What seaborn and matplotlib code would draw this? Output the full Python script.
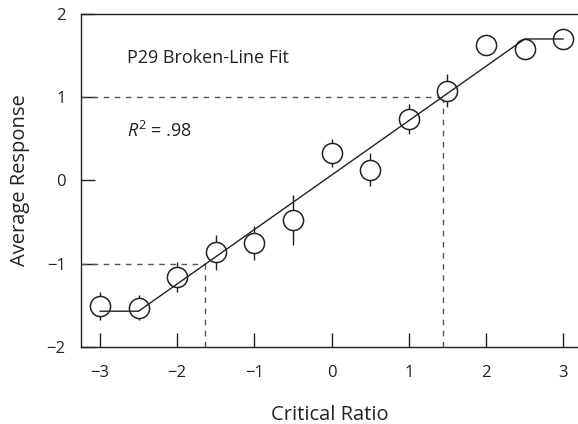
import matplotlib
matplotlib.use("Agg")
import matplotlib.pyplot as plt
import seaborn as sns
import pandas as pd

# Data
critical_ratio = [-3, -2.5, -2, -1.5, -1, -0.5, 0, 0.5, 1, 1.5, 2, 2.5, 3]
avg_response = [-1.51, -1.53, -1.16, -0.86, -0.75, -0.48, 0.33, 0.13, 0.74, 1.08, 1.63, 1.58, 1.70]
err = [0.17, 0.15, 0.18, 0.21, 0.20, 0.30, 0.17, 0.20, 0.18, 0.20, 0.08, 0.08, 0.05]
fit_x = [-3, -2.5, 2.5, 3]
fit_y = [-1.57, -1.57, 1.70, 1.70]
lower_cut_x, lower_cut_y = -1.64, -1.0
upper_cut_x, upper_cut_y = 1.44, 1.0
xticks = [-3, -2, -1, 0, 1, 2, 3]
yticks = [-2, -1, 0, 1, 2]

sns.set_theme(style="white")
plt.rcParams['font.family'] = ['Open Sans', 'DejaVu Sans']
plt.rcParams['mathtext.fontset'] = 'custom'
plt.rcParams['mathtext.rm'] = 'Open Sans'
plt.rcParams['mathtext.it'] = 'Open Sans:italic'
plt.rcParams['axes.unicode_minus'] = True

df = pd.DataFrame({"x": critical_ratio, "y": avg_response, "e": err})

fig = plt.figure(figsize=(5.78, 4.24), dpi=100)
ax = fig.add_axes([0.140, 0.1816, 0.860, 0.7854])

xmin, xmax = -3.246, 3.19
ymin, ymax = -2, 2
ax.set_xlim(xmin, xmax)
ax.set_ylim(ymin, ymax)

# dashed guide lines
dash_kw = dict(color="#555555", lw=1.0, ls=(0, (4, 4)), zorder=1)
ax.plot([xmin, lower_cut_x], [lower_cut_y, lower_cut_y], **dash_kw)
ax.plot([lower_cut_x, lower_cut_x], [ymin, lower_cut_y], **dash_kw)
ax.plot([xmin, upper_cut_x], [upper_cut_y, upper_cut_y], **dash_kw)
ax.plot([upper_cut_x, upper_cut_x], [ymin, upper_cut_y], **dash_kw)

# error bars
ax.errorbar(df["x"], df["y"], yerr=df["e"], fmt="none", ecolor="#222222",
            elinewidth=1.0, capsize=0, zorder=2)

# points
sns.scatterplot(data=df, x="x", y="y", ax=ax, s=210, marker="o",
                facecolor="white", edgecolor="#222222", linewidth=1.1,
                zorder=3, legend=False)

# broken-line fit
sns.lineplot(x=fit_x, y=fit_y, ax=ax, color="#222222", lw=1.0, zorder=4,
             sort=False, estimator=None)

ax.text(-2.65, 1.41, "P29 Broken-Line Fit", fontsize=13, va="baseline", ha="left",
        color="#222222")
ax.text(-2.65, 0.52, r"$R^{2}$ = .98", fontsize=13, va="baseline", ha="left",
        color="#222222")

ax.set_xticks(xticks)
ax.set_yticks(yticks)
ax.set_xticklabels([f"{t}".replace("-", "\u2212") for t in xticks])
ax.set_yticklabels([f"{t}".replace("-", "\u2212") for t in yticks])
ax.tick_params(axis="both", direction="in", length=10, width=1.0,
               color="#222222", labelsize=12, labelcolor="#222222")
ax.tick_params(axis="x", bottom=True, pad=13)
ax.tick_params(axis="y", left=True, pad=11)

for side in ["left", "top", "bottom"]:
    ax.spines[side].set_visible(True)
    ax.spines[side].set_color("#222222")
    ax.spines[side].set_linewidth(1.0)
ax.spines["right"].set_visible(False)

ax.set_xlabel("Critical Ratio", fontsize=14.5, color="#222222", labelpad=17)
ax.set_ylabel("Average Response", fontsize=14.5, color="#222222", labelpad=12)

fig.savefig("out.png", dpi=100)
